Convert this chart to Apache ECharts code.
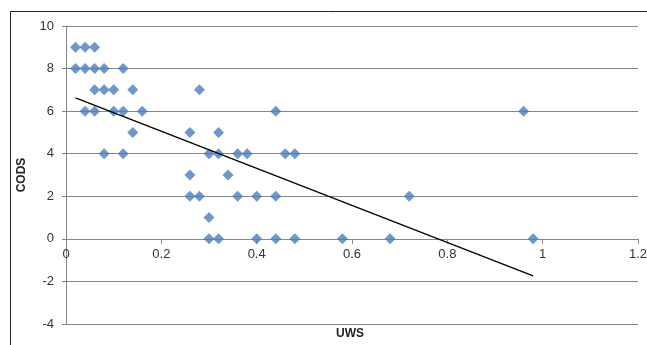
<!DOCTYPE html>
<html>
<head>
<meta charset="utf-8">
<script src="https://cdn.jsdelivr.net/npm/echarts@6/dist/echarts.min.js"></script>
<style>html,body{margin:0;padding:0;background:#fff}#c{width:647px;height:345px}</style>
</head>
<body>
<div id="c"></div>
<script>
// UWS (x) values grouped per CODS (y) level
var uws = [
  0.02,0.04,0.06,
  0.02,0.04,0.06,0.08,0.12,
  0.06,0.08,0.10,0.14,0.28,
  0.04,0.06,0.10,0.12,0.16,0.44,0.96,
  0.14,0.26,0.32,
  0.08,0.12,0.30,0.32,0.36,0.38,0.46,0.48,
  0.26,0.34,
  0.26,0.28,0.36,0.40,0.44,0.72,
  0.30,
  0.30,0.32,0.40,0.44,0.48,0.58,0.68,0.98
];
var cods = [
  9,9,9,
  8,8,8,8,8,
  7,7,7,7,7,
  6,6,6,6,6,6,6,
  5,5,5,
  4,4,4,4,4,4,4,4,
  3,3,
  2,2,2,2,2,2,
  1,
  0,0,0,0,0,0,0,0
];
var trendX = [0.02, 0.98];
var trendY = [6.62, -1.74];
var xTicks = [0, 0.2, 0.4, 0.6, 0.8, 1, 1.2];
var yTicks = [-4, -2, 0, 2, 4, 6, 8, 10];

var pts = uws.map(function (x, i) { return [x, cods[i]]; });
var trend = trendX.map(function (x, i) { return [x, trendY[i]]; });

var chart = echarts.init(document.getElementById('c'), null, {renderer: 'canvas'});
var font = 'Liberation Sans, Arial, sans-serif';
var gridTop = 26, gridBottom = 21, H = 345;
var plotH = H - gridTop - gridBottom;
// offset that places the x axis on the y = 0 line
var zeroOffset = -plotH * (0 - yTicks[0]) / (yTicks[yTicks.length - 1] - yTicks[0]);
chart.setOption({
  animation: false,
  graphic: [
    {type: 'line', shape: {x1: 10.5, y1: 11.5, x2: 647, y2: 11.5}, style: {stroke: '#222', lineWidth: 1}},
    {type: 'line', shape: {x1: 10.5, y1: 11.5, x2: 10.5, y2: 345}, style: {stroke: '#222', lineWidth: 1}},
    {type: 'text', left: 336, top: 328, style: {text: 'UWS', font: 'bold 12px ' + font, fill: '#222'}}
  ],
  grid: {left: 66, right: 9, top: gridTop, bottom: gridBottom, containLabel: false, outerBoundsMode: 'none'},
  xAxis: {
    type: 'value', min: 0, max: 1.2, interval: 0.2, position: 'bottom', offset: zeroOffset,
    axisLine: {show: true, onZero: false, lineStyle: {color: '#868686', width: 1}},
    axisTick: {show: true, inside: false, length: 5, lineStyle: {color: '#868686'}},
    axisLabel: {color: '#333', fontSize: 13, fontFamily: font, margin: 9,
      formatter: function (v) { return String(+v.toFixed(1)); }},
    splitLine: {show: false}
  },
  yAxis: {
    type: 'value', min: -4, max: 10, interval: 2,
    name: 'CODS', nameLocation: 'middle', nameGap: 38, nameRotate: 90,
    nameTextStyle: {fontWeight: 'bold', fontSize: 12, color: '#222', fontFamily: font},
    axisLine: {show: true, onZero: false, lineStyle: {color: '#868686', width: 1}},
    axisTick: {show: true, length: 4, lineStyle: {color: '#868686'}},
    axisLabel: {color: '#333', fontSize: 13, fontFamily: font, margin: 12},
    splitLine: {show: true, lineStyle: {color: '#868686', width: 1}}
  },
  series: [
    {type: 'scatter', data: pts, symbol: 'path://M0,-1L1,0L0,1L-1,0Z', symbolSize: 11,
      itemStyle: {color: '#4A7EBB'}, z: 3},
    {type: 'line', data: trend, symbol: 'none', lineStyle: {color: '#000', width: 1.3}, z: 4}
  ]
});
</script>
</body>
</html>
